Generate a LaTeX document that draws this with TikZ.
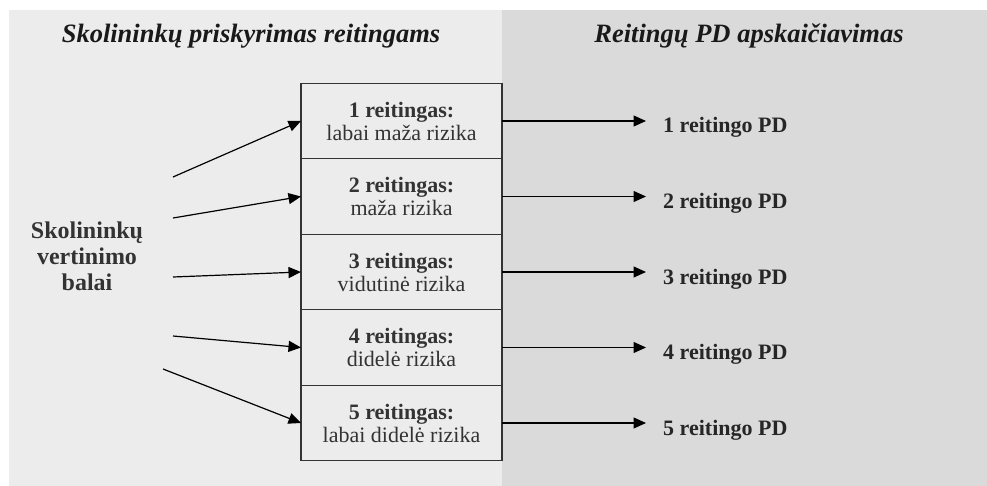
\documentclass[tikz,border=0pt]{standalone}
\usepackage{fontspec}
\setmainfont{Liberation Serif}
\usetikzlibrary{arrows.meta,positioning}

\definecolor{panelL}{HTML}{ECECEC}
\definecolor{panelR}{HTML}{DADADA}
\definecolor{ink}{HTML}{333333}

\tikzset{
    reit/.style={draw=ink, line width=1.2pt, fill=panelL, outer sep=0pt, inner sep=0pt,
        minimum width=201pt, minimum height=75.5pt, align=center, text=ink,
        font=\fontsize{22}{23}\selectfont},
    pdlbl/.style={anchor=base west, inner sep=0pt, text=black!85,
        font=\fontsize{22}{24}\selectfont\bfseries},
    ttl/.style={anchor=base, inner sep=0pt, text=black!90,
        font=\fontsize{26.5}{28}\selectfont\bfseries\itshape},
    arr/.style={-{Triangle[length=12.5pt,width=11pt]}, line width=1.2pt}
}

\begin{document}
\begin{tikzpicture}[x=1pt, y=-1pt]
    \useasboundingbox (0,0) rectangle (987,486);
    \fill[panelL] (9,10) rectangle (502,486);
    \fill[panelR] (502,10) rectangle (987,486);

    \node[ttl] (ttlL) at (251,43) {Skolininkų priskyrimas reitingams};
    \node[ttl] (ttlR) at (749,43) {Reitingų PD apskaičiavimas};

    \node[reit] (r1) at (401.5,121) {\textbf{1 reitingas:}\\labai maža rizika};
    \node[reit, below=0pt of r1] (r2) {\textbf{2 reitingas:}\\maža rizika};
    \node[reit, below=0pt of r2] (r3) {\textbf{3 reitingas:}\\vidutinė rizika};
    \node[reit, below=0pt of r3] (r4) {\textbf{4 reitingas:}\\didelė rizika};
    \node[reit, below=0pt of r4] (r5) {\textbf{5 reitingas:}\\labai didelė rizika};

    \node[align=center, text=ink, font=\fontsize{24}{26}\selectfont\bfseries] (balai) at (87,256)
        {Skolininkų\\vertinimo\\balai};

    \coordinate (s1) at (173,177);
    \coordinate (s2) at (173,218);
    \coordinate (s3) at (173,277);
    \coordinate (s4) at (173,336);
    \coordinate (s5) at (163,369);

    \draw[arr] (s1) -- (r1.west);
    \draw[arr] (s2) -- (r2.west);
    \draw[arr] (s3) -- (r3.west);
    \draw[arr] (s4) -- (r4.west);
    \draw[arr] (s5) -- (r5.west);

    \node[pdlbl] (pd1) at (663,133) {1 reitingo PD};
    \node[pdlbl] (pd2) at (663,208.5) {2 reitingo PD};
    \node[pdlbl] (pd3) at (663,284) {3 reitingo PD};
    \node[pdlbl] (pd4) at (663,359.5) {4 reitingo PD};
    \node[pdlbl] (pd5) at (663,435) {5 reitingo PD};

    \draw[arr, shorten >=17pt] (r1.east) -- (r1.east -| pd1.west);
    \draw[arr, shorten >=17pt] (r2.east) -- (r2.east -| pd2.west);
    \draw[arr, shorten >=17pt] (r3.east) -- (r3.east -| pd3.west);
    \draw[arr, shorten >=17pt] (r4.east) -- (r4.east -| pd4.west);
    \draw[arr, shorten >=17pt] (r5.east) -- (r5.east -| pd5.west);
\end{tikzpicture}
\end{document}
